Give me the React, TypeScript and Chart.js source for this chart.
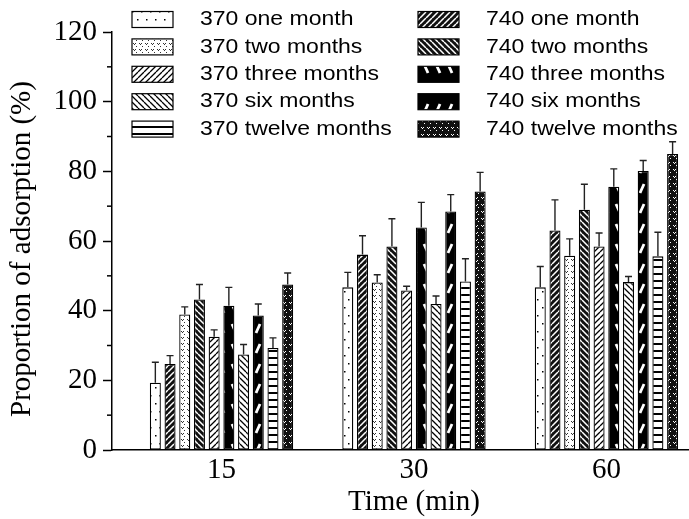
import React, { useEffect, useRef } from 'react';
import { Chart, registerables } from 'chart.js';

Chart.register(...registerables);

// ---- data ----
const timeLabels = ['15', '30', '60'];
const timePositions = [1, 2, 3];
const xTitle = 'Time (min)';
const yTitle = 'Proportion of adsorption (%)';
const yMin = 0;
const yMax = 120;
const yStep = 20;

const labels370 = ['370 one month', '370 two months', '370 three months', '370 six months', '370 twelve months'];
const labels740 = ['740 one month', '740 two months', '740 three months', '740 six months', '740 twelve months'];

const v370one = [19.3, 46.7, 46.7];
const e370one = [5.9, 4.3, 6.0];
const v740one = [24.7, 56.1, 63.0];
const e740one = [2.4, 5.4, 8.8];
const v370two = [38.9, 48.1, 55.8];
const e370two = [2.2, 2.2, 4.8];
const v740two = [43.2, 58.4, 69.0];
const e740two = [4.3, 8.0, 7.3];
const v370three = [32.5, 45.8, 58.4];
const e370three = [2.0, 1.2, 3.9];
const v740three = [41.4, 63.9, 75.6];
const e740three = [5.3, 7.2, 5.1];
const v370six = [27.4, 41.9, 48.2];
const e370six = [2.9, 2.3, 1.6];
const v740six = [38.6, 68.5, 80.1];
const e740six = [3.3, 4.8, 3.0];
const v370twelve = [29.3, 48.4, 55.6];
const e370twelve = [2.9, 6.5, 6.9];
const v740twelve = [47.5, 74.2, 85.0];
const e740twelve = [3.3, 5.5, 3.5];

// drawing order (interleaved)
const seriesLabels = [
  labels370[0], labels740[0], labels370[1], labels740[1], labels370[2],
  labels740[2], labels370[3], labels740[3], labels370[4], labels740[4],
];
const seriesValues = [v370one, v740one, v370two, v740two, v370three, v740three, v370six, v740six, v370twelve, v740twelve];
const seriesErrors = [e370one, e740one, e370two, e740two, e370three, e740three, e370six, e740six, e370twelve, e740twelve];

// ---- layout constants ----
const W = 689;
const H = 519;
const X_MIN = 0.431;
const X_MAX = 3.429;
const SERIF = "'Liberation Serif', 'Times New Roman', serif";
const SANS = "'Liberation Sans', Arial, sans-serif";

type Drawer = (g: CanvasRenderingContext2D, w: number, h: number) => void;

function makePattern(ctx: CanvasRenderingContext2D, w: number, h: number, bg: string, draw: Drawer) {
  const c = document.createElement('canvas');
  c.width = w;
  c.height = h;
  const g = c.getContext('2d')!;
  g.fillStyle = bg;
  g.fillRect(0, 0, w, h);
  draw(g, w, h);
  return ctx.createPattern(c, 'repeat')!;
}

function diag(dir: '/' | '\\', color: string, lw: number): Drawer {
  return (g, w, h) => {
    g.strokeStyle = color;
    g.lineWidth = lw;
    g.beginPath();
    for (let o = -w; o <= w; o += w) {
      if (dir === '/') {
        g.moveTo(o, h);
        g.lineTo(o + w, 0);
      } else {
        g.moveTo(o, 0);
        g.lineTo(o + w, h);
      }
    }
    g.stroke();
  };
}

function dots(color: string, pts: number[][], s: number): Drawer {
  return (g) => {
    g.fillStyle = color;
    pts.forEach(([x, y]) => g.fillRect(x, y, s, s));
  };
}

function dash(dir: '/' | '\\', color: string): Drawer {
  return (g) => {
    g.strokeStyle = color;
    g.lineWidth = 2.8;
    g.beginPath();
    if (dir === '\\') {
      g.moveTo(4, 4);
      g.lineTo(8, 13);
    } else {
      g.moveTo(8, 4);
      g.lineTo(4, 13);
    }
    g.stroke();
  };
}

export default function App() {
  const ref = useRef<HTMLCanvasElement>(null);

  useEffect(() => {
    const canvas = ref.current!;
    const ctx = canvas.getContext('2d')!;

    const patterns = [
      makePattern(ctx, 9, 16, '#fff', dots('#000', [[2, 3], [6, 11]], 1.5)),
      makePattern(ctx, 6, 6, '#111', diag('/', '#fff', 1.5)),
      makePattern(ctx, 6, 6, '#fff', dots('#333', [[1, 1], [3, 1], [2, 2], [4, 4]], 1)),
      makePattern(ctx, 6, 6, '#111', diag('\\', '#fff', 1.5)),
      makePattern(ctx, 6, 6, '#fff', diag('/', '#000', 1.3)),
      makePattern(ctx, 12, 20, '#000', dash('\\', '#fff')),
      makePattern(ctx, 6, 6, '#fff', diag('\\', '#000', 1.3)),
      makePattern(ctx, 12, 20, '#000', dash('/', '#fff')),
      makePattern(ctx, 4, 7, '#fff', dots('#000', [[0, 0], [2, 0]], 2)),
      makePattern(ctx, 6, 7, '#111', dots('#fff', [[1, 1], [3, 1], [2, 2], [4, 4]], 1)),
    ];

    const datasets = seriesLabels.map((label, k) => ({
      label,
      data: seriesValues[k].map((v, i) => ({ x: timePositions[i], y: v })),
      backgroundColor: patterns[k],
      borderColor: '#000',
      borderWidth: 1.3,
      borderSkipped: false as const,
      categoryPercentage: 0.764,
      barPercentage: 0.75,
    }));

    const errorBars = {
      id: 'errorBars',
      afterDatasetsDraw(chart: any) {
        const c = chart.ctx;
        const y = chart.scales.y;
        c.save();
        c.strokeStyle = '#222';
        c.lineWidth = 1.4;
        chart.data.datasets.forEach((_: any, d: number) => {
          const meta = chart.getDatasetMeta(d);
          meta.data.forEach((bar: any, i: number) => {
            const top = y.getPixelForValue(seriesValues[d][i] + seriesErrors[d][i]);
            c.beginPath();
            c.moveTo(bar.x, bar.y);
            c.lineTo(bar.x, top);
            c.moveTo(bar.x - 3.5, top);
            c.lineTo(bar.x + 3.5, top);
            c.stroke();
          });
        });
        c.restore();
      },
    };

    const extras = {
      id: 'extras',
      afterDraw(chart: any) {
        const c = chart.ctx;
        const ys = chart.scales.y;
        const xs = chart.scales.x;
        const axisX = chart.chartArea.left;
        c.save();
        // minor ticks
        c.strokeStyle = '#000';
        c.lineWidth = 1.5;
        const tv = ys.ticks.map((t: any) => t.value);
        for (let i = 0; i < tv.length - 1; i++) {
          const py = ys.getPixelForValue((tv[i] + tv[i + 1]) / 2);
          c.beginPath();
          c.moveTo(axisX - 5, py);
          c.lineTo(axisX, py);
          c.stroke();
        }
        // axis titles
        c.fillStyle = '#000';
        c.font = `29px ${SERIF}`;
        c.textAlign = 'center';
        c.textBaseline = 'middle';
        c.fillText(xTitle, xs.getPixelForValue(timePositions[1]), 502);
        c.save();
        c.translate(22, 249);
        c.rotate(-Math.PI / 2);
        c.fillText(yTitle, 0, 0);
        c.restore();
        // legend
        c.font = `20px ${SANS}`;
        c.textAlign = 'left';
        const cols = [
          { sx: 132, tx: 200, offset: 0 },
          { sx: 418, tx: 486, offset: 1 },
        ];
        cols.forEach((col) => {
          for (let r = 0; r < 5; r++) {
            const ds = chart.data.datasets[r * 2 + col.offset];
            const cy = 19.5 + r * 27.4;
            c.fillStyle = ds.backgroundColor;
            c.fillRect(col.sx, cy - 8, 41, 16);
            c.strokeStyle = '#000';
            c.lineWidth = 1.2;
            c.strokeRect(col.sx, cy - 8, 41, 16);
            c.save();
            c.translate(col.tx, cy);
            c.scale(1.15, 1.05);
            c.fillStyle = '#000';
            c.fillText(ds.label, 0, 0);
            c.restore();
          }
        });
        c.restore();
      },
    };

    const chart = new Chart(canvas, {
      type: 'bar',
      data: { datasets: datasets as any },
      options: {
        responsive: false,
        animation: false,
        devicePixelRatio: 1,
        layout: { padding: { top: 32, left: 0, right: 0, bottom: 0 } },
        plugins: { legend: { display: false }, tooltip: { enabled: false } },
        scales: {
          x: {
            type: 'linear',
            min: X_MIN,
            max: X_MAX,
            offset: false,
            afterBuildTicks: (s: any) => {
              s.ticks = timePositions.map((v) => ({ value: v }));
            },
            afterFit: (s: any) => {
              s.height = 69;
            },
            ticks: {
              callback: (_v: any, i: number) => timeLabels[i],
              font: { family: SERIF, size: 29 },
              color: '#000',
              padding: 3,
              autoSkip: false,
              maxRotation: 0,
            },
            grid: { drawOnChartArea: false, drawTicks: false },
            border: { color: '#000', width: 1.5 },
          },
          y: {
            min: yMin,
            max: yMax,
            ticks: {
              stepSize: yStep,
              font: { family: SERIF, size: 29 },
              color: '#000',
              padding: 6,
            },
            afterFit: (s: any) => {
              s.width = 112;
            },
            grid: { drawOnChartArea: false, tickLength: 9, tickColor: '#000', tickWidth: 1.5 },
            border: { color: '#000', width: 1.5 },
            title: { display: false },
          },
        },
      } as any,
      plugins: [errorBars, extras],
    });

    return () => chart.destroy();
  }, []);

  return (
    <div style={{ position: 'absolute', left: 0, top: 0, width: W, height: H, background: '#fff' }}>
      <canvas ref={ref} width={W} height={H} />
    </div>
  );
}
